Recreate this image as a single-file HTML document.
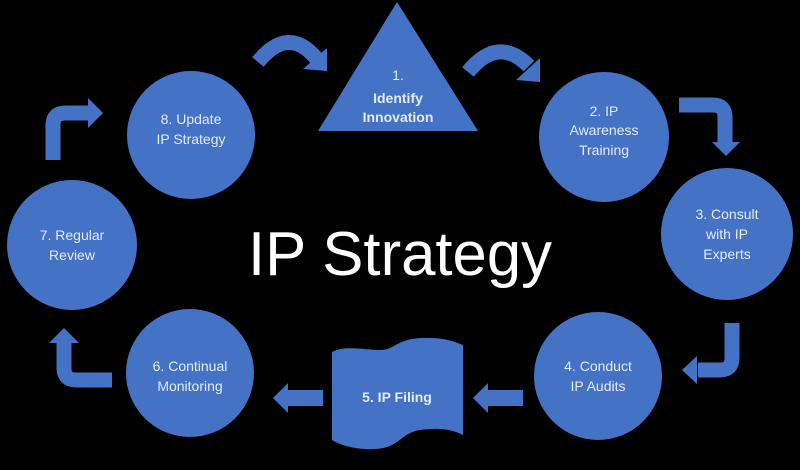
<!DOCTYPE html>
<html><head><meta charset="utf-8"><style>
html,body{margin:0;padding:0;background:#000;}
svg{display:block;}
text{font-family:"Liberation Sans",sans-serif;fill:#e4eaf6;}
</style></head><body>
<svg width="800" height="470" viewBox="0 0 800 470" xmlns="http://www.w3.org/2000/svg">
<rect width="800" height="470" fill="#000"/>
<g fill="#4472c4">
<polygon points="397,2 318,131 478,131"/>
<circle cx="604" cy="137" r="65"/>
<circle cx="727" cy="234" r="66"/>
<circle cx="598" cy="376" r="64"/>
<circle cx="191" cy="135" r="64"/>
<circle cx="72" cy="245" r="65"/>
<circle cx="190" cy="373" r="64"/>
<path d="M332,352 C345,345 365,350 380,350 C395,350 395,340 420,338 C445,337 455,342 463,345 L463,435 C450,428 435,428 420,430 C400,433 400,448 375,449 C355,450 340,445 332,440 Z"/>
<!-- bent arrows -->
<polygon points="712,142 740,142 726,156"/>
<polygon points="88,98 88,128 103,113"/>
<polygon points="697,356 697,384 682,370"/>
<polygon points="49,343 79,343 64,328"/>
<!-- straight -->
<rect x="288" y="390" width="35" height="16"/>
<polygon points="288,383 288,413 273,398"/>
<rect x="488" y="390" width="35" height="16"/>
<polygon points="488,383 488,413 473,398"/>
<!-- curved heads -->
<polygon points="327,48 327,71 303,69"/>
<polygon points="540,58 540,82 516,80"/>
</g>
<g fill="none" stroke="#4472c4" stroke-width="15">
<path d="M679,105 H713 Q725,105 725,117 V143"/>
<path d="M53,160 V125 Q53,113 65,113 H89"/>
<path d="M732,323 V358 Q732,370 720,370 H698"/>
<path d="M112,380 H76 Q64,380 64,368 V342"/>
<path d="M258,62 Q288,25 316,58"/>
<path d="M468,72 Q498,35 529,66"/>
</g>
<text x="400" y="275" font-size="62" text-anchor="middle" textLength="304" lengthAdjust="spacingAndGlyphs" style="fill:#fff">IP Strategy</text>
<g font-size="14" text-anchor="middle">
<text x="398" y="80">1.</text>
<text x="398" y="103" font-weight="bold">Identify</text>
<text x="398" y="122" font-weight="bold">Innovation</text>
<text x="604" y="116">2. IP</text>
<text x="604" y="135">Awareness</text>
<text x="604" y="155">Training</text>
<text x="727" y="219">3. Consult</text>
<text x="727" y="239">with IP</text>
<text x="727" y="259">Experts</text>
<text x="598" y="371">4. Conduct</text>
<text x="598" y="391">IP Audits</text>
<text x="397" y="402" font-weight="bold">5. IP Filing</text>
<text x="190" y="371">6. Continual</text>
<text x="190" y="391">Monitoring</text>
<text x="72" y="240">7. Regular</text>
<text x="72" y="260">Review</text>
<text x="191" y="124">8. Update</text>
<text x="191" y="144">IP Strategy</text>
</g>
</svg>
</body></html>
